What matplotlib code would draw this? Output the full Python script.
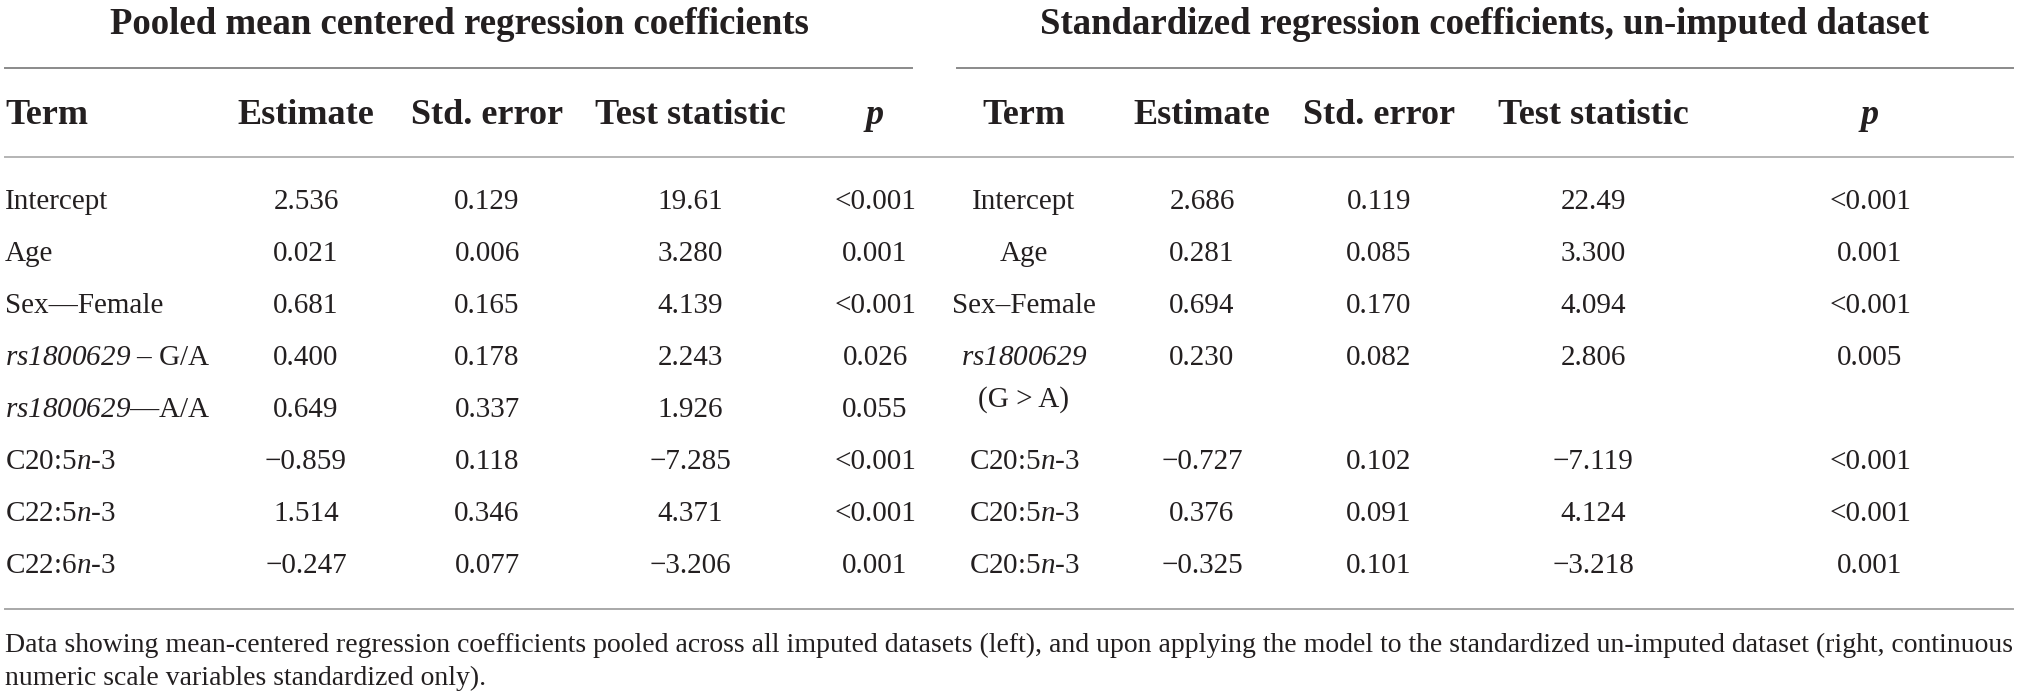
import matplotlib
matplotlib.use('Agg')
import matplotlib.pyplot as plt

plt.rcParams['font.family'] = ['Liberation Serif', 'DejaVu Serif']
plt.rcParams['mathtext.fontset'] = 'custom'
plt.rcParams['mathtext.rm'] = 'Liberation Serif'
plt.rcParams['mathtext.it'] = 'Liberation Serif:italic'
plt.rcParams['mathtext.bf'] = 'Liberation Serif:bold'
# \mathsf is used as a plain italic face, so that digits come out slanted too
plt.rcParams['mathtext.sf'] = 'Liberation Serif:italic'

# Table contents
left_title = 'Pooled mean centered regression coefficients'
right_title = 'Standardized regression coefficients, un-imputed dataset'
headers = ['Term', 'Estimate', 'Std. error', 'Test statistic', 'p']

left_terms = ['Intercept', 'Age', 'Sex\u2014Female',
              '$\\mathsf{rs1800629}$ \u2013 G/A', '$\\mathsf{rs1800629}$\u2014A/A',
              'C20:5$\\mathsf{n}$-3', 'C22:5$\\mathsf{n}$-3', 'C22:6$\\mathsf{n}$-3']
left_est = ['2.536', '0.021', '0.681', '0.400', '0.649', '\u22120.859', '1.514', '\u22120.247']
left_se = ['0.129', '0.006', '0.165', '0.178', '0.337', '0.118', '0.346', '0.077']
left_stat = ['19.61', '3.280', '4.139', '2.243', '1.926', '\u22127.285', '4.371', '\u22123.206']
left_p = ['<0.001', '0.001', '<0.001', '0.026', '0.055', '<0.001', '<0.001', '0.001']

right_terms = ['Intercept', 'Age', 'Sex\u2013Female', '$\\mathsf{rs1800629}$',
               'C20:5$\\mathsf{n}$-3', 'C20:5$\\mathsf{n}$-3', 'C20:5$\\mathsf{n}$-3']
right_est = ['2.686', '0.281', '0.694', '0.230', '\u22120.727', '0.376', '\u22120.325']
right_se = ['0.119', '0.085', '0.170', '0.082', '0.102', '0.091', '0.101']
right_stat = ['22.49', '3.300', '4.094', '2.806', '\u22127.119', '4.124', '\u22123.218']
right_p = ['<0.001', '0.001', '<0.001', '0.005', '<0.001', '<0.001', '0.001']

caption = ['Data showing mean-centered regression coefficients pooled across all imputed datasets (left), '
           'and upon applying the model to the standardized un-imputed dataset (right, continuous',
           'numeric scale variables standardized only).']

# layout (pixel coordinates)
W, H = 2019, 698
ink = '#231f20'
fs_body = 21
fs_head = 26
fs_title = 26.5

left_x = [5, 306, 487, 690, 875]
right_x = [1024, 1202, 1379, 1593, 1870]
left_rows = [202, 254, 306, 358, 410, 462, 514, 566]
right_rows = [202, 254, 306, 358, 462, 514, 566]

fig = plt.figure(figsize=(W / 100, H / 100), dpi=100)
ax = fig.add_axes([0, 0, 1, 1])
ax.set_xlim(0, W)
ax.set_ylim(H, 0)
ax.axis('off')

# titles and rules
ax.text(459, 24, left_title, fontsize=fs_title, fontweight='bold', color=ink, ha='center', va='center')
ax.text(1484, 24, right_title, fontsize=fs_title, fontweight='bold', color=ink, ha='center', va='center')
ax.plot([5, 912], [68, 68], color='#8a8a8a', lw=1.4)
ax.plot([957, 2013], [68, 68], color='#8a8a8a', lw=1.4)
ax.plot([5, 2013], [157, 157], color='#b4b4b4', lw=1.4)
ax.plot([5, 2013], [609, 609], color='#a8a8a8', lw=1.4)

# headers
for cols in (left_x, right_x):
    for i, (x, h) in enumerate(zip(cols, headers)):
        ha = 'left' if (cols is left_x and i == 0) else 'center'
        style = 'italic' if h == 'p' else 'normal'
        ax.text(x, 115, h, fontsize=fs_head, fontweight='bold', fontstyle=style,
                color=ink, ha=ha, va='center')

# left body
for row, y in enumerate(left_rows):
    ax.text(left_x[0], y, left_terms[row], fontsize=fs_body, color=ink, ha='left', va='center')
    for x, col in zip(left_x[1:], (left_est, left_se, left_stat, left_p)):
        ax.text(x, y, col[row], fontsize=fs_body, color=ink, ha='center', va='center')

# right body
for row, y in enumerate(right_rows):
    ax.text(right_x[0], y, right_terms[row], fontsize=fs_body, color=ink, ha='center', va='center')
    for x, col in zip(right_x[1:], (right_est, right_se, right_stat, right_p)):
        ax.text(x, y, col[row], fontsize=fs_body, color=ink, ha='center', va='center')
ax.text(right_x[0], 400, '(G > A)', fontsize=fs_body, color=ink, ha='center', va='center')

# caption, sized so the first line runs across the full width
cap_texts = [ax.text(5, y, line, fontsize=20, color=ink, ha='left', va='center')
             for y, line in zip([645, 678], caption)]
fig.canvas.draw()
r = fig.canvas.get_renderer()
width = cap_texts[0].get_window_extent(r).width
for t in cap_texts:
    t.set_fontsize(20 * 2006 / width)

fig.savefig('out.png', dpi=100)
